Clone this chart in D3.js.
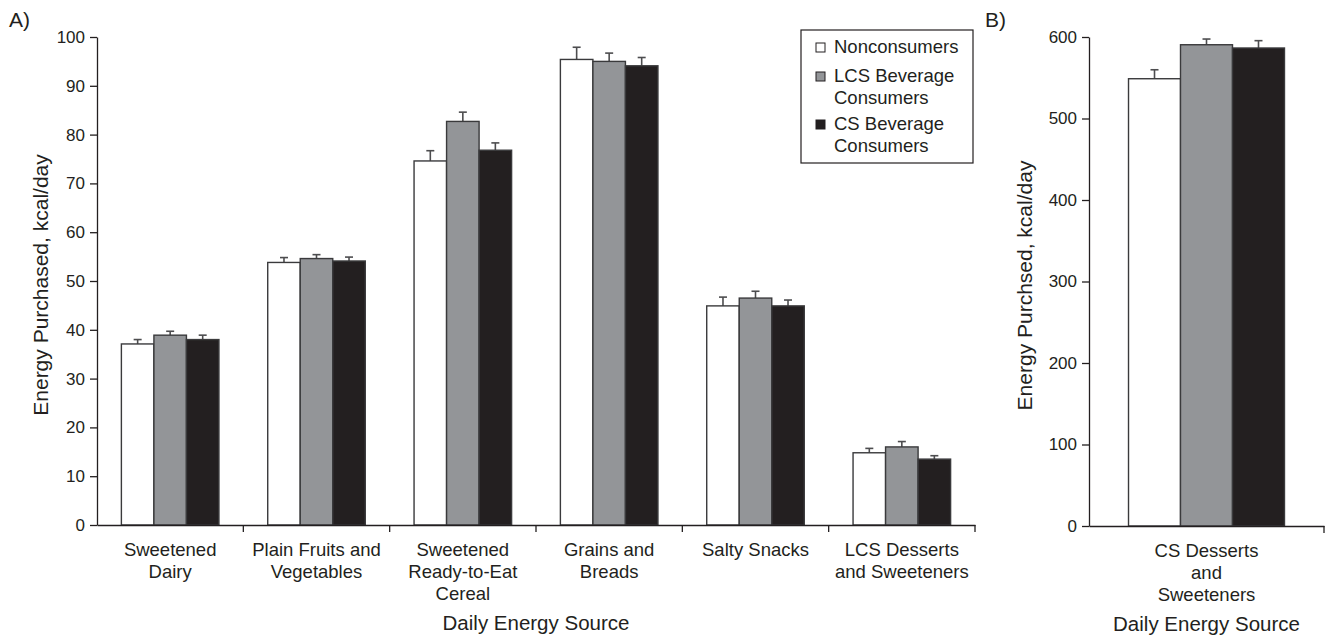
<!DOCTYPE html>
<html>
<head>
<meta charset="utf-8">
<script src="https://cdn.jsdelivr.net/npm/d3@7"></script>
<style>
  body { margin: 0; background: #fff; }
  svg text { font-family: "Liberation Sans", Arial, sans-serif; fill: #231f20; }
</style>
</head>
<body>
<svg id="chart" width="1329" height="636"></svg>
<script>
const WIDTH = 1329;
const HEIGHT = 636;

// data
var series = ['Nonconsumers', 'LCS Beverage Consumers', 'CS Beverage Consumers'];
var seriesLegend = [['Nonconsumers'], ['LCS Beverage', 'Consumers'], ['CS Beverage', 'Consumers']];
var colors = ['#ffffff', '#939598', '#231f20'];

var categoriesA = ['Sweetened Dairy', 'Plain Fruits and Vegetables', 'Sweetened Ready-to-Eat Cereal',
    'Grains and Breads', 'Salty Snacks', 'LCS Desserts and Sweeteners'];
var labelsA = [['Sweetened', 'Dairy'], ['Plain Fruits and', 'Vegetables'], ['Sweetened', 'Ready-to-Eat', 'Cereal'],
    ['Grains and', 'Breads'], ['Salty Snacks'], ['LCS Desserts', 'and Sweeteners']];
var nonconsumersA = [37.1, 53.8, 74.6, 95.4, 44.9, 14.8];
var lcsA = [38.9, 54.6, 82.7, 95.0, 46.5, 16.0];
var csA = [38.0, 54.1, 76.8, 94.1, 44.9, 13.5];
var nonconsumersErrA = [0.9, 1.0, 2.1, 2.5, 1.8, 0.9];
var lcsErrA = [0.8, 0.8, 1.9, 1.7, 1.4, 1.1];
var csErrA = [0.9, 0.8, 1.5, 1.7, 1.2, 0.7];
var ticksA = [0, 10, 20, 30, 40, 50, 60, 70, 80, 90, 100];

var categoriesB = ['CS Desserts and Sweeteners'];
var labelsB = [['CS Desserts', 'and', 'Sweeteners']];
var nonconsumersB = [548.8];
var lcsB = [590.5];
var csB = [586.5];
var nonconsumersErrB = [11];
var lcsErrB = [7];
var csErrB = [9];
var ticksB = [0, 100, 200, 300, 400, 500, 600];

var svg = d3.select('#chart');

function buildRows(cats, vals, errs) {
    return cats.map(function (c, i) {
        return {
            cat: c,
            bars: series.map(function (s, j) {
                return {series: s, idx: j, value: vals[j][i], err: errs[j][i]};
            })
        };
    });
}

function drawPanel(opts) {
    var rows = buildRows(opts.categories, opts.values, opts.errors);

    var x0 = d3.scaleBand().domain(opts.categories).range([opts.left, opts.right]).padding(0);
    var x1 = d3.scaleBand().domain(series).range([0, x0.bandwidth()])
        .paddingInner(0).paddingOuter(opts.outer);
    var y = d3.scaleLinear().domain([0, opts.ticks[opts.ticks.length - 1]]).range([opts.bottom, opts.top]);

    var g = svg.append('g');

    // bars
    var groups = g.selectAll('g.cat')
        .data(rows)
        .enter().append('g')
        .attr('transform', function (d) { return 'translate(' + x0(d.cat) + ',0)'; });

    groups.selectAll('line.err')
        .data(function (d) { return d.bars; })
        .enter().append('line')
        .attr('x1', function (d) { return x1(d.series) + x1.bandwidth() / 2; })
        .attr('x2', function (d) { return x1(d.series) + x1.bandwidth() / 2; })
        .attr('y1', function (d) { return y(d.value); })
        .attr('y2', function (d) { return y(d.value + d.err); })
        .attr('stroke', '#4d4d4f').attr('stroke-width', 1.6);

    groups.selectAll('line.cap')
        .data(function (d) { return d.bars; })
        .enter().append('line')
        .attr('x1', function (d) { return x1(d.series) + x1.bandwidth() / 2 - 4; })
        .attr('x2', function (d) { return x1(d.series) + x1.bandwidth() / 2 + 4; })
        .attr('y1', function (d) { return y(d.value + d.err); })
        .attr('y2', function (d) { return y(d.value + d.err); })
        .attr('stroke', '#4d4d4f').attr('stroke-width', 1.6);

    groups.selectAll('rect')
        .data(function (d) { return d.bars; })
        .enter().append('rect')
        .attr('x', function (d) { return x1(d.series); })
        .attr('y', function (d) { return y(d.value); })
        .attr('width', x1.bandwidth())
        .attr('height', function (d) { return y(0) - y(d.value); })
        .attr('fill', function (d) { return colors[d.idx]; })
        .attr('stroke', '#3a3a3c').attr('stroke-width', 1.4);

    // y axis
    var yAxis = d3.axisLeft(y).tickValues(opts.ticks).tickSize(7).tickSizeOuter(0).tickPadding(5);
    var ya = g.append('g')
        .attr('transform', 'translate(' + opts.left + ',0)')
        .call(yAxis);
    ya.select('.domain').attr('stroke', '#231f20').attr('stroke-width', 1.3);
    ya.selectAll('.tick line').attr('stroke', '#231f20').attr('stroke-width', 1.3);
    ya.selectAll('.tick text').style('font-size', '17px').attr('fill', '#231f20');

    // x axis with ticks at category boundaries
    var xAxis = d3.axisBottom(x0).tickSize(0).tickSizeOuter(0).tickFormat('');
    var xa = g.append('g')
        .attr('transform', 'translate(0,' + opts.bottom + ')')
        .call(xAxis);
    xa.select('.domain').attr('stroke', '#231f20').attr('stroke-width', 1.3);
    xa.selectAll('line.bound')
        .data(opts.categories)
        .enter().append('line')
        .attr('x1', function (d) { return x0(d) + x0.bandwidth(); })
        .attr('x2', function (d) { return x0(d) + x0.bandwidth(); })
        .attr('y1', 0).attr('y2', 7)
        .attr('stroke', '#231f20').attr('stroke-width', 1.3);

    // category labels
    var labels = g.selectAll('text.cat')
        .data(opts.categories)
        .enter().append('text')
        .attr('x', function (d) { return x0(d) + x0.bandwidth() / 2; })
        .attr('y', opts.bottom + 31)
        .attr('text-anchor', 'middle')
        .style('font-size', '18.5px');
    labels.each(function (d, i) {
        var t = d3.select(this);
        opts.labels[i].forEach(function (line, k) {
            t.append('tspan')
                .attr('x', x0(d) + x0.bandwidth() / 2)
                .attr('dy', k === 0 ? 0 : 21.8)
                .text(line);
        });
    });

    // axis titles
    g.append('text')
        .attr('x', (opts.left + opts.right) / 2)
        .attr('y', opts.bottom + 105)
        .attr('text-anchor', 'middle')
        .style('font-size', '20.5px')
        .text('Daily Energy Source');

    g.append('text')
        .attr('transform', 'translate(' + opts.yTitleX + ',' + ((opts.top + opts.bottom) / 2 + 4) + ') rotate(-90)')
        .attr('text-anchor', 'middle')
        .style('font-size', '21px')
        .text(opts.yTitle);

    g.append('text')
        .attr('x', opts.tagX).attr('y', 27)
        .style('font-size', '21px')
        .text(opts.tag);
}

drawPanel({
    categories: categoriesA, labels: labelsA,
    values: [nonconsumersA, lcsA, csA], errors: [nonconsumersErrA, lcsErrA, csErrA],
    ticks: ticksA, left: 97, right: 975, top: 37, bottom: 525, outer: 0.75,
    yTitle: 'Energy Purchased, kcal/day', yTitleX: 48, tag: 'A)', tagX: 9
});

drawPanel({
    categories: categoriesB, labels: labelsB,
    values: [nonconsumersB, lcsB, csB], errors: [nonconsumersErrB, lcsErrB, csErrB],
    ticks: ticksB, left: 1089, right: 1324, top: 37, bottom: 526, outer: 0.76,
    yTitle: 'Energy Purchsed, kcal/day', yTitleX: 1032, tag: 'B)', tagX: 985
});

// legend
var legend = svg.append('g').attr('transform', 'translate(801,30)');
legend.append('rect')
    .attr('x', 0).attr('y', 0).attr('width', 172).attr('height', 133)
    .attr('fill', '#fff').attr('stroke', '#231f20').attr('stroke-width', 1.2);
var rowY = [23, 52, 100];
seriesLegend.forEach(function (lines, i) {
    legend.append('rect')
        .attr('x', 15).attr('y', rowY[i] - 10).attr('width', 9).attr('height', 9)
        .attr('fill', colors[i]).attr('stroke', '#231f20').attr('stroke-width', 1);
    lines.forEach(function (line, k) {
        legend.append('text')
            .attr('x', 33)
            .attr('y', rowY[i] + k * 21.5)
            .style('font-size', '18.5px')
            .text(line);
    });
});
</script>
</body>
</html>
